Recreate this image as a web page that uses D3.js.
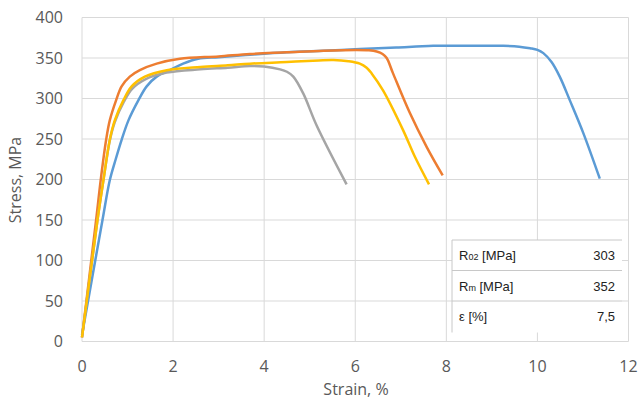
<!DOCTYPE html>
<html>
<head>
    <meta charset="utf-8">
    <title>Stress-strain</title>
    <script src="https://d3js.org/d3.v7.min.js"></script>
    <style>
        body { margin: 0; background: white; }
        svg { display: block; background: white; }
    </style>
</head>
<body>
    <svg id="chart"></svg>
    <script>
        // strain [%], stress [MPa] per specimen
        const blue = [[0,8],[0.45,150],[0.61,199],[0.74,225],[0.87,249],[1.02,273],[1.24,298],[1.42,315],[1.64,327],[1.93,335],[2.22,343],[2.55,349],[3.0,351],[3.69,354],[4.5,357],[5.3,359],[6.1,361],[6.9,363],[7.71,365],[8.5,365],[9.25,365],[9.6,364],[9.84,362],[10.0,360],[10.13,356],[10.31,345],[10.49,327],[10.71,298],[11.01,257],[11.37,201]];
        const orange = [[0,5],[0.31,150],[0.41,199],[0.53,249],[0.61,273],[0.75,298],[0.87,315],[1.05,327],[1.27,335],[1.64,343],[2.15,349],[3.0,352],[3.69,355],[4.5,357],[5.3,359],[6.03,360],[6.3,359.5],[6.47,358],[6.6,355],[6.69,350],[6.83,331],[7.2,282],[7.57,240],[7.92,205]];
        const gray = [[0,5],[0.34,150],[0.47,199],[0.61,248],[0.72,271],[0.92,296],[1.1,312],[1.4,324],[1.86,332],[2.6,336],[3.2,338],[3.69,340],[4.0,339.5],[4.35,336],[4.5,333],[4.64,327],[4.86,306],[5.15,267],[5.81,194]];
        const yellow = [[0,5],[0.34,150],[0.47,199],[0.61,249],[0.72,273],[0.91,298],[1.09,315],[1.38,327],[1.86,335],[2.6,339],[3.2,341],[3.69,343],[4.5,345],[5.2,347],[5.52,347.5],[5.85,346],[6.1,343],[6.25,338],[6.36,331],[6.61,310],[7.05,261],[7.31,228],[7.62,194]];

        const xTicks = [0, 2, 4, 6, 8, 10, 12];
        const yTicks = [0, 50, 100, 150, 200, 250, 300, 350, 400];
        const tableRows = [["R", "02", " [MPa]", "303"], ["R", "m", " [MPa]", "352"], ["ε [%]", "", "", "7,5"]];

        const width = 639, height = 403;
        const svg = d3.select("#chart").attr("width", width).attr("height", height);

        const x = d3.scaleLinear().domain([0, 12]).range([82, 628.5]);
        const y = d3.scaleLinear().domain([0, 400]).range([341.5, 17.5]);

        // grid
        svg.append("g").selectAll("line.h").data(yTicks).join("line")
            .attr("x1", x(0)).attr("x2", x(12))
            .attr("y1", d => y(d)).attr("y2", d => y(d))
            .attr("stroke", "#d9d9d9").attr("stroke-width", 1);
        svg.append("g").selectAll("line.v").data(xTicks).join("line")
            .attr("x1", d => x(d)).attr("x2", d => x(d))
            .attr("y1", y(0)).attr("y2", y(400))
            .attr("stroke", "#d9d9d9").attr("stroke-width", 1);

        // tick labels
        svg.append("g").selectAll("text").data(yTicks).join("text")
            .attr("x", 63).attr("y", d => y(d) + 5.5)
            .attr("text-anchor", "end")
            .attr("font-family", "Open Sans").attr("font-size", "16px").attr("fill", "#595959")
            .text(d => d);
        svg.append("g").selectAll("text").data(xTicks).join("text")
            .attr("x", d => x(d)).attr("y", 372)
            .attr("text-anchor", "middle")
            .attr("font-family", "Open Sans").attr("font-size", "16px").attr("fill", "#595959")
            .text(d => d);

        svg.append("text")
            .attr("x", 356).attr("y", 395)
            .attr("text-anchor", "middle")
            .attr("font-family", "Open Sans").attr("font-size", "16px").attr("fill", "#595959")
            .text("Strain, %");
        svg.append("text")
            .attr("transform", "translate(21,180) rotate(-90)")
            .attr("text-anchor", "middle")
            .attr("font-family", "Open Sans").attr("font-size", "16px").attr("fill", "#595959")
            .text("Stress, MPa");

        // curves, drawn in series order so later ones sit on top
        const line = d3.line().x(d => x(d[0])).y(d => y(d[1])).curve(d3.curveCatmullRom.alpha(0.5));
        const series = [[blue, "#5b9bd5"], [orange, "#ed7d31"], [gray, "#a5a5a5"], [yellow, "#ffc000"]];
        svg.append("g").selectAll("path").data(series).join("path")
            .attr("d", d => line(d[0]))
            .attr("fill", "none")
            .attr("stroke", d => d[1])
            .attr("stroke-width", 2.5)
            .attr("stroke-linejoin", "round");

        // results table
        const tx = 452, ty = 240, tw = 170, rowH = 30.5;
        const table = svg.append("g");
        table.append("rect").attr("x", tx).attr("y", ty).attr("width", tw).attr("height", rowH * 3 + 1)
            .attr("fill", "white");
        table.append("line").attr("x1", tx).attr("x2", tx).attr("y1", ty).attr("y2", ty + rowH * 3 + 1)
            .attr("stroke", "#c8c8c8");
        table.selectAll("line.sep").data([0, 1, 2]).join("line")
            .attr("x1", tx).attr("x2", tx + tw)
            .attr("y1", d => ty + d * rowH).attr("y2", d => ty + d * rowH)
            .attr("stroke", "#c8c8c8");
        const rows = table.selectAll("g.row").data(tableRows).join("g")
            .attr("transform", (d, i) => `translate(0,${ty + i * rowH + 20})`);
        const label = rows.append("text")
            .attr("x", tx + 7)
            .attr("font-family", "Liberation Sans").attr("font-size", "13px").attr("fill", "#222");
        label.append("tspan").text(d => d[0]);
        label.append("tspan").attr("font-size", "9px").text(d => d[1]);
        label.append("tspan").text(d => d[2]);
        rows.append("text")
            .attr("x", tx + tw - 7).attr("text-anchor", "end")
            .attr("font-family", "Liberation Sans").attr("font-size", "13px").attr("fill", "#222")
            .text(d => d[3]);
    </script>
</body>
</html>
